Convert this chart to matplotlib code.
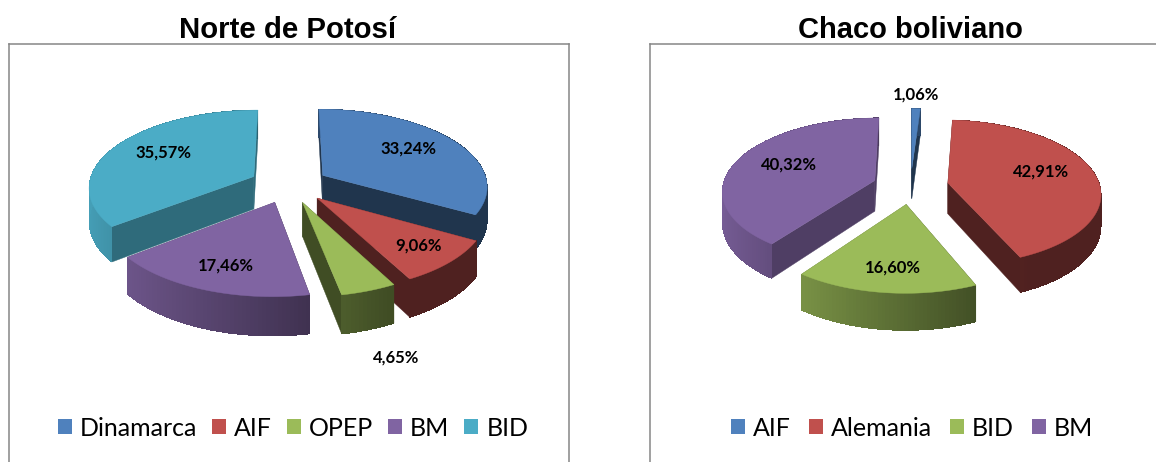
import numpy as np
import matplotlib
matplotlib.use("Agg")
import matplotlib.pyplot as plt
from matplotlib.patches import Patch

# ---- data ----
left_title = "Norte de Potosí"
left_names = ["Dinamarca", "AIF", "OPEP", "BM", "BID"]
left_values = [33.24, 9.06, 4.65, 17.46, 35.57]

right_title = "Chaco boliviano"
right_names = ["AIF", "Alemania", "BID", "BM"]
right_values = [1.06, 42.91, 16.60, 40.32]

# ---- style / layout ----
BLUE, RED, GREEN, PURPLE, TEAL = "#4f81bd", "#c0504d", "#9bbb59", "#8064a2", "#4bacc6"
left_colors = [BLUE, RED, GREEN, PURPLE, TEAL]
right_colors = [BLUE, RED, GREEN, PURPLE]
left_label_xy = [(408, 149), (419, 246), (396, 358), (226, 266), (163, 153)]
right_label_xy = [(916, 95), (1041, 172), (893, 268), (789, 165)]

W, H = 1156, 462
LABEL_FONT = "Lato"
TITLE_FONT = "Liberation Sans"
LEGEND_SIZE = 18


def shade(color, k):
    r = np.array(matplotlib.colors.to_rgb(color)) * k
    return tuple(np.clip(r, 0, 1))


def rim_factor(theta):
    return max(0.41, 0.568 - 0.357 * np.sin(theta))


def draw_pie(ax, values, colors, cx, cy, f, g, h, p, explode):
    def project(X, Y, Z=0.0):
        w = 1 + p * Y
        return cx + f * X / w, cy - g * Y / w + h * Z / w

    fractions = np.array(values) / np.sum(values)
    edges = np.concatenate([[0], np.cumsum(fractions)]) * 2 * np.pi
    bisect = (edges[:-1] + edges[1:]) / 2
    order = np.argsort(-np.cos(bisect))
    for n, i in enumerate(order):
        base = 3 + n
        ox, oy = explode * np.sin(bisect[i]), explode * np.cos(bisect[i])
        t = np.linspace(edges[i], edges[i + 1], max(4, int((edges[i + 1] - edges[i]) * 50)))
        X, Y = ox + np.sin(t), oy + np.cos(t)
        # radial cut faces
        for th, rx, ry in ((t[0], X[0], Y[0]), (t[-1], X[-1], Y[-1])):
            k = 0.62 if th > np.pi else 0.41
            a0, a1 = project(ox, oy), project(rx, ry)
            b0, b1 = project(ox, oy, 1), project(rx, ry, 1)
            ax.fill([a0[0], a1[0], b1[0], b0[0]], [a0[1], a1[1], b1[1], b0[1]],
                    color=shade(colors[i], k), lw=0.3, zorder=base)
        # outer rim, shaded along the arc
        for j in range(len(t) - 1):
            a0, a1 = project(X[j], Y[j]), project(X[j + 1], Y[j + 1])
            b0, b1 = project(X[j], Y[j], 1), project(X[j + 1], Y[j + 1], 1)
            ax.fill([a0[0], a1[0], b1[0], b0[0]], [a0[1], a1[1], b1[1], b0[1]],
                    color=shade(colors[i], rim_factor(t[j])), lw=0, antialiased=False,
                    zorder=base + 0.1)
        # top surface
        px, py = project(np.r_[ox, X], np.r_[oy, Y])
        ax.fill(px, py, color=colors[i], lw=0.3, zorder=base + 0.2)


def panel(x0, x1, y0, y1, title, title_x, size):
    ax = fig.add_axes([x0 / W, 1 - y1 / H, (x1 - x0) / W, (y1 - y0) / H])
    ax.set_xlim(x0, x1)
    ax.set_ylim(y1, y0)
    ax.set_xticks([])
    ax.set_yticks([])
    for s in ax.spines.values():
        s.set_color("#868686")
        s.set_linewidth(1.1)
    fig.text(title_x / W, 1 - 30 / H, title, ha="center", va="center",
             fontsize=size, fontweight="bold", family=TITLE_FONT, color="black")
    return ax


def finish(ax, names, colors, values, label_xy, legend_xy, spacing):
    for v, (x, y) in zip(values, label_xy):
        ax.text(x, y, f"{v:.2f}".replace(".", ",") + "%", ha="center", va="center",
                fontsize=12, fontweight="bold", family=LABEL_FONT, color="black", zorder=30)
    handles = [Patch(facecolor=c, edgecolor="none", label=n) for c, n in zip(colors, names)]
    side = 14 / (LEGEND_SIZE * 100 / 72)
    ax.legend(handles=handles, ncol=len(names), loc="center", bbox_to_anchor=legend_xy,
              bbox_transform=ax.transData, frameon=False, handlelength=side, handleheight=side,
              handletextpad=0.32, columnspacing=spacing, borderpad=0, borderaxespad=0,
              prop={"family": LABEL_FONT, "size": LEGEND_SIZE})


fig = plt.figure(figsize=(W / 100, H / 100), dpi=100, facecolor="white")

ax1 = panel(9, 569, 44, 500, left_title, 288, 21.2)
draw_pie(ax1, left_values, left_colors, 289, 184.5, 165, 77, 33, 0.13, 0.24)
finish(ax1, left_names, left_colors, left_values, left_label_xy, (293, 428), 0.6)

ax2 = panel(650, 1175, 44, 500, right_title, 910, 21)
draw_pie(ax2, right_values, right_colors, 910.6, 186, 152, 72, 31, 0.13, 0.25)
finish(ax2, right_names, right_colors, right_values, right_label_xy, (912, 428), 0.72)

fig.savefig("out.png", dpi=100, facecolor="white")
